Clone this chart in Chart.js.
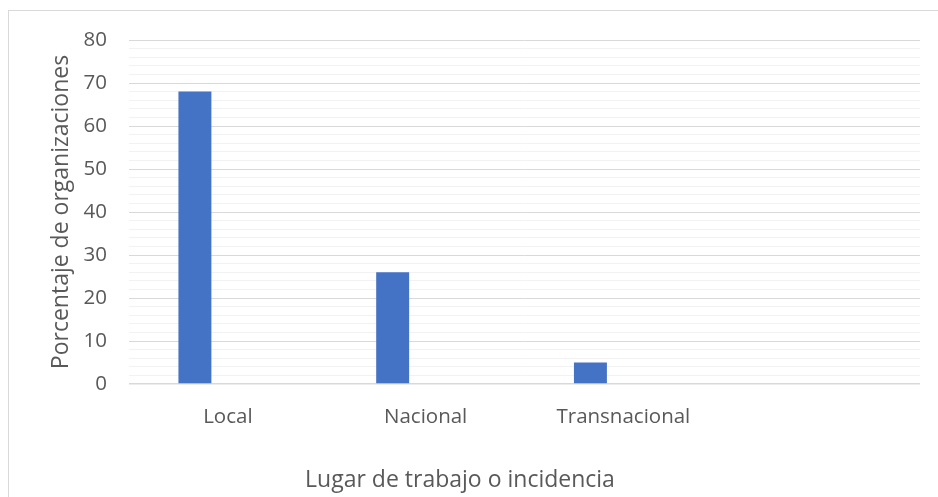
<!DOCTYPE html>
<html>
<head>
<meta charset="utf-8">
<script src="https://cdn.jsdelivr.net/npm/chart.js@4.4.1/dist/chart.umd.min.js"></script>
<style>
html,body{margin:0;padding:0;background:#fff;}
#wrap{width:938px;height:497px;position:relative;}
</style>
</head>
<body>
<div id="wrap"><canvas id="c" width="938" height="497"></canvas></div>
<script>
const categories = ["Local", "Nacional", "Transnacional", ""];
const serie1 = [68, 26, 5, null];
const serie2 = [null, null, null, null];
const serie3 = [null, null, null, null];
const yTickLabels = [0, 10, 20, 30, 40, 50, 60, 70, 80];
const yTitle = "Porcentaje de organizaciones";
const xTitle = "Lugar de trabajo o incidencia";

const FONT = "'Open Sans', sans-serif";
const TXT = "#595959";
const TITLE_SIZE = 23;
const TITLE_H = TITLE_SIZE * 1.2 + 3;

const borderPlugin = {
  id: 'outerBorder',
  beforeDraw(chart) {
    const ctx = chart.ctx;
    ctx.save();
    ctx.fillStyle = '#fff';
    ctx.fillRect(0, 0, chart.width, chart.height);
    ctx.strokeStyle = '#d9d9d9';
    ctx.lineWidth = 1;
    ctx.strokeRect(8.5, 10.5, chart.width, chart.height);
    ctx.restore();
  }
};

new Chart(document.getElementById('c'), {
  type: 'bar',
  data: {
    labels: categories,
    datasets: [
      { data: serie1, backgroundColor: '#4472c4' },
      { data: serie2, backgroundColor: '#ed7d31' },
      { data: serie3, backgroundColor: '#a5a5a5' }
    ]
  },
  plugins: [borderPlugin],
  options: {
    responsive: false,
    animation: false,
    devicePixelRatio: 1,
    layout: { padding: { top: 40, right: 18, left: 0, bottom: 0 } },
    datasets: { bar: { categoryPercentage: 0.5, barPercentage: 1.0 } },
    plugins: {
      legend: { display: false },
      tooltip: { enabled: false },
      title: {
        display: true, position: 'bottom', text: xTitle, color: TXT,
        font: { family: FONT, size: TITLE_SIZE, weight: 'normal', lineHeight: 1.2 },
        padding: { top: 0, bottom: 3 }
      }
    },
    scales: {
      x: {
        grid: { display: false, drawTicks: false },
        border: { display: false },
        ticks: { color: TXT, font: { family: FONT, size: 20.5 }, padding: 21, maxRotation: 0 },
        afterFit(scale) { scale.height = 497 - 384 - TITLE_H; }
      },
      y: {
        min: 0, max: 80,
        ticks: {
          stepSize: 2,
          color: TXT,
          font: { family: FONT, size: 20.5 },
          padding: 22,
          autoSkip: false,
          callback: (v) => yTickLabels.includes(v) ? String(v) : ''
        },
        grid: {
          drawTicks: false,
          color: (ctx) => (ctx.tick && ctx.tick.value % 10 === 0) ? '#d9d9d9' : '#f2f2f2',
          lineWidth: (ctx) => (ctx.tick && ctx.tick.value === 0) ? 1.5 : 1
        },
        border: { display: false },
        title: { display: true, text: yTitle, color: TXT, font: { family: FONT, size: TITLE_SIZE }, padding: { top: 48, bottom: 0 } },
        afterFit(scale) { scale.width = 129; }
      }
    }
  }
});
</script>
</body>
</html>
